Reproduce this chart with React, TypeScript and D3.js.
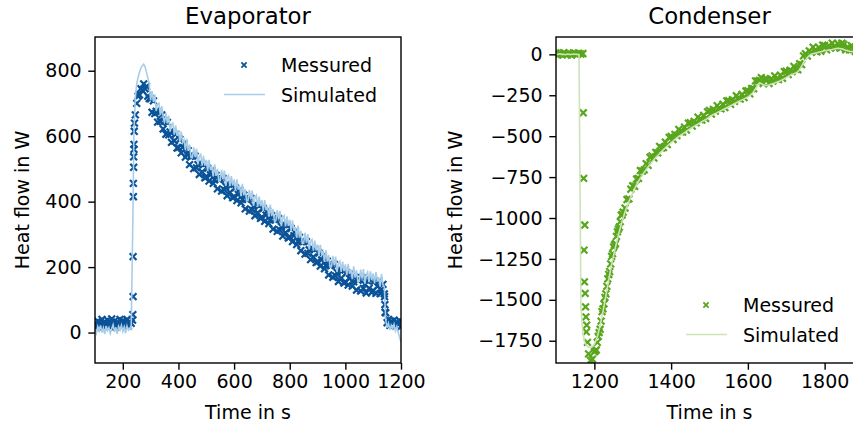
import React, { useEffect, useRef } from 'react';
import * as d3 from 'd3';

// evaporator: samples every 5 s starting at 100 s
const evapT0 = 100;
const evapStep = 5;
const evapMeasured = [
  28, 15, 35, 22, 30, 40, 18, 33, 25, 38,
  20, 30, 42, 24, 35, 17, 32, 27, 40, 22,
  36, 25, 30, 40, 20, 33, 28, 38, 560, 665,
  700, 722, 726, 745, 740, 760, 745, 752, 722, 715,
  714, 673, 708, 669, 676, 643, 674, 645, 665, 622,
  646, 606, 642, 604, 613, 581, 613, 586, 606, 564,
  565, 590, 549, 566, 577, 536, 545, 556, 513, 540,
  539, 501, 539, 503, 513, 483, 517, 491, 513, 473,
  475, 502, 463, 482, 495, 456, 467, 480, 439, 468,
  469, 432, 471, 436, 447, 418, 453, 428, 451, 412,
  415, 442, 403, 422, 435, 396, 407, 420, 378, 407,
  408, 371, 410, 375, 386, 357, 392, 366, 388, 349,
  352, 379, 340, 359, 372, 333, 344, 357, 316, 345,
  346, 309, 348, 313, 324, 295, 330, 305, 328, 289,
  292, 318, 278, 296, 309, 269, 279, 291, 250, 278,
  278, 240, 278, 242, 253, 223, 257, 231, 254, 214,
  216, 243, 203, 222, 234, 195, 205, 218, 176, 205,
  206, 169, 208, 173, 184, 156, 191, 166, 190, 151,
  155, 183, 145, 165, 180, 142, 155, 169, 130, 160,
  162, 127, 168, 135, 148, 121, 158, 135, 160, 123,
  128, 157, 120, 141, 156, 119, 132, 147, 118, 60,
  30, 40, 22, 35, 28, 38, 20, 32, 25, 36,
  18,
];
// extra measured points during the fast transients
const evapExtraT = [236, 237, 237, 238, 238, 239, 239, 240, 241, 242, 1141, 1142, 1143];
const evapExtraV = [55, 110, 232, 415, 456, 505, 537, 575, 615, 640, 110, 85, 62];
const evapSimulated = [
  10, -2, 18, 5, 22, 0, 14, -5, 20, 6,
  15, -3, 12, 24, 2, 16, -4, 19, 8, 22,
  3, 17, -2, 20, 8, 14, 10, 280, 610, 720,
  760, 780, 795, 808, 815, 820, 812, 795, 778, 760,
  709, 738, 705, 728, 677, 698, 701, 664, 692, 659,
  641, 671, 639, 663, 614, 636, 640, 605, 633, 601,
  618, 583, 614, 581, 590, 557, 592, 555, 574, 535,
  534, 566, 536, 562, 514, 538, 544, 510, 540, 510,
  528, 495, 528, 497, 508, 477, 514, 479, 500, 463,
  464, 497, 468, 495, 448, 473, 480, 447, 478, 449,
  468, 435, 468, 437, 448, 417, 454, 419, 439, 402,
  403, 436, 407, 434, 387, 412, 419, 385, 415, 386,
  405, 372, 405, 374, 385, 354, 391, 356, 377, 340,
  341, 374, 345, 372, 325, 350, 357, 324, 355, 326,
  345, 311, 343, 311, 322, 290, 326, 290, 311, 273,
  273, 305, 275, 301, 254, 278, 284, 250, 281, 251,
  269, 236, 268, 237, 247, 216, 252, 217, 237, 200,
  201, 234, 205, 232, 185, 211, 218, 185, 217, 188,
  208, 176, 210, 180, 193, 163, 202, 168, 191, 155,
  157, 192, 165, 194, 149, 176, 185, 154, 187, 160,
  181, 150, 185, 156, 169, 140, 179, 146, 140, 40,
  15, 28, 8, 22, 12, 25, 5, 18, 0, -15,
  -30,
];

// condenser: samples every 5 s starting at 1100 s
const condT0 = 1100;
const condStep = 5;
const condMeasured = [
  8, -4, 6, -2, 10, 2, -3, 7, -5, 9,
  5, -2, 6, 1, 5, -1043, -1655, -1830, -1870, -1862,
  -1818, -1806, -1724, -1680, -1572, -1524, -1464, -1372, -1328, -1234,
  -1178, -1156, -1084, -1055, -982, -964, -939, -887, -883, -824,
  -803, -806, -762, -758, -710, -714, -706, -668, -678, -629,
  -620, -634, -599, -602, -562, -572, -570, -537, -552, -508,
  -502, -520, -489, -496, -459, -473, -475, -445, -463, -421,
  -418, -439, -410, -419, -384, -399, -402, -373, -392, -351,
  -343, -365, -337, -347, -313, -329, -333, -305, -325, -285,
  -283, -305, -277, -287, -253, -269, -273, -245, -264, -224,
  -222, -241, -209, -210, -162, -164, -159, -142, -178, -149,
  -153, -178, -152, -164, -132, -150, -154, -127, -146, -106,
  -103, -124, -96, -106, -74, -92, -94, -57, -63, -9,
  4, -11, 21, 12, 44, 24, 16, 42, 19, 56,
  54, 28, 52, 38, 68, 49, 42, 65, 38, 68,
  60, 28, 46, 27, 53, 29, 18, 39, 12, 46,
  29,
];
const condExtraT = [
  1171, 1172, 1173, 1174, 1176, 1177, 1178, 1179, 1182,
  1202.5, 1207.5, 1212.5, 1217.5, 1222.5, 1227.5, 1232.5, 1237.5,
  1242.5, 1247.5, 1252.5, 1257.5, 1262.5, 1267.5, 1272.5,
];
const condExtraV = [
  -357, -758, -1196, -1390, -1461, -1543, -1604, -1696, -1760,
  -1812, -1760, -1700, -1630, -1555, -1485, -1418, -1345,
  -1280, -1218, -1165, -1112, -1068, -1022, -980,
];
const condSimulated = [
  2, -1, 3, 0, 1, -2, 2, 0, -1, 2,
  1, 0, -2, -1550, -1700, -1760, -1780, -1790, -1790, -1785,
  -1770, -1745, -1705, -1655, -1600, -1540, -1475, -1410, -1345, -1285,
  -1230, -1178, -1128, -1082, -1040, -1000, -962, -930, -900, -872,
  -846, -820, -797, -776, -756, -738, -720, -703, -688, -673,
  -658, -644, -631, -618, -606, -594, -582, -571, -560, -550,
  -540, -530, -520, -511, -502, -494, -486, -478, -470, -462,
  -454, -447, -440, -433, -426, -419, -412, -405, -398, -391,
  -380, -374, -368, -362, -356, -350, -344, -338, -332, -326,
  -320, -314, -308, -302, -296, -290, -284, -278, -272, -266,
  -260, -252, -242, -228, -210, -190, -175, -178, -186, -190,
  -190, -187, -183, -179, -175, -171, -166, -161, -155, -149,
  -142, -135, -129, -123, -118, -114, -107, -92, -72, -52,
  -35, -20, -8, 0, 4, 7, 10, 13, 16, 19,
  22, 24, 26, 28, 30, 33, 36, 37, 36, 33,
  29, 25, 22, 19, 17, 15, 14, 13, 12, 12,
  11,
];

const evapXTicks = [200, 400, 600, 800, 1000, 1200];
const evapYTicks = [0, 200, 400, 600, 800];
const condXTicks = [1200, 1400, 1600, 1800];
const condYTicks = [0, -250, -500, -750, -1000, -1250, -1500, -1750];

const FONT = "'DejaVu Sans', sans-serif";

const xMarker = (cx, cy, s) =>
  `M${cx - s},${cy - s}L${cx + s},${cy + s}M${cx - s},${cy + s}L${cx + s},${cy - s}`;

function drawPanel(svg, o) {
  const x = d3.scaleLinear().domain(o.xDomain).range([o.left, o.right]);
  const y = d3.scaleLinear().domain(o.yDomain).range([o.bottom, o.top]);

  svg
    .append('clipPath')
    .attr('id', o.id)
    .append('rect')
    .attr('x', o.left)
    .attr('y', o.top)
    .attr('width', o.right - o.left)
    .attr('height', o.bottom - o.top);

  const plot = svg.append('g').attr('clip-path', `url(#${o.id})`);

  const measured = o.measured
    .map((v, i) => [o.t0 + i * o.step, v])
    .concat(o.extraT.map((t, i) => [t, o.extraV[i]]));

  plot
    .selectAll('path.m')
    .data(measured)
    .enter()
    .append('path')
    .attr('class', 'm')
    .attr('d', (d) => xMarker(x(d[0]), y(d[1]), 3.4))
    .attr('stroke', o.mColor)
    .attr('stroke-width', 2.2)
    .attr('fill', 'none');

  const sim = o.simulated.map((v, i) => [o.t0 + i * o.step, v]);
  plot
    .append('path')
    .datum(sim)
    .attr('d', d3.line().x((d) => x(d[0])).y((d) => y(d[1])))
    .attr('fill', 'none')
    .attr('stroke', o.sColor)
    .attr('stroke-width', 1.6);

  const xAxis = svg
    .append('g')
    .attr('transform', `translate(0,${o.bottom})`)
    .call(
      d3.axisBottom(x).tickValues(o.xTicks).tickSize(6.7).tickSizeOuter(0).tickPadding(5).tickFormat(d3.format('d'))
    );
  const yAxis = svg
    .append('g')
    .attr('transform', `translate(${o.left},0)`)
    .call(
      d3.axisLeft(y).tickValues(o.yTicks).tickSize(6.7).tickSizeOuter(0).tickPadding(6.7).tickFormat(d3.format('d'))
    );
  [xAxis, yAxis].forEach((a) => {
    a.select('.domain').remove();
    a.selectAll('line').attr('stroke', '#000').attr('stroke-width', 1.4);
    a.selectAll('text').attr('font-family', FONT).attr('font-size', 19).attr('fill', '#000');
  });

  svg
    .append('rect')
    .attr('x', o.left)
    .attr('y', o.top)
    .attr('width', o.right - o.left)
    .attr('height', o.bottom - o.top)
    .attr('fill', 'none')
    .attr('stroke', '#000')
    .attr('stroke-width', 1.4);

  const mid = (o.left + o.right) / 2;
  svg
    .append('text')
    .attr('x', mid)
    .attr('y', 24)
    .attr('text-anchor', 'middle')
    .attr('font-family', FONT)
    .attr('font-size', 22.8)
    .text(o.title);

  svg
    .append('text')
    .attr('x', mid)
    .attr('y', 419)
    .attr('text-anchor', 'middle')
    .attr('font-family', FONT)
    .attr('font-size', 19)
    .text('Time in s');

  svg
    .append('text')
    .attr('transform', `translate(${o.yLabelX},${(o.top + o.bottom) / 2}) rotate(-90)`)
    .attr('text-anchor', 'middle')
    .attr('dy', '0.35em')
    .attr('font-family', FONT)
    .attr('font-size', 19)
    .text('Heat flow in W');

  // legend
  const lg = svg.append('g').attr('transform', `translate(${o.legendX},${o.legendY})`);
  lg.append('path')
    .attr('d', xMarker(20, 0, 2.6))
    .attr('stroke', o.mColor)
    .attr('stroke-width', 1.8);
  lg.append('line')
    .attr('x1', 0)
    .attr('x2', 41)
    .attr('y1', 29.5)
    .attr('y2', 29.5)
    .attr('stroke', o.sColor)
    .attr('stroke-width', 1.5);
  lg.append('text')
    .attr('x', 57)
    .attr('y', 7)
    .attr('font-family', FONT)
    .attr('font-size', 19)
    .text('Messured');
  lg.append('text')
    .attr('x', 57)
    .attr('y', 37)
    .attr('font-family', FONT)
    .attr('font-size', 19)
    .text('Simulated');
}

export default function App() {
  const ref = useRef(null);

  useEffect(() => {
    const svg = d3.select(ref.current);
    svg.selectAll('*').remove();

    drawPanel(svg, {
      id: 'clip-evap',
      title: 'Evaporator',
      left: 95,
      right: 401,
      top: 37,
      bottom: 363,
      xDomain: [100, 1200],
      yDomain: [-93, 903],
      xTicks: evapXTicks,
      yTicks: evapYTicks,
      t0: evapT0,
      step: evapStep,
      measured: evapMeasured,
      extraT: evapExtraT,
      extraV: evapExtraV,
      simulated: evapSimulated,
      mColor: '#0a5398',
      sColor: '#a9cde9',
      yLabelX: 22,
      legendX: 224,
      legendY: 65,
    });

    drawPanel(svg, {
      id: 'clip-cond',
      title: 'Condenser',
      left: 556,
      right: 863,
      top: 37,
      bottom: 363,
      xDomain: [1100, 1900],
      yDomain: [-1886, 106],
      xTicks: condXTicks,
      yTicks: condYTicks,
      t0: condT0,
      step: condStep,
      measured: condMeasured,
      extraT: condExtraT,
      extraV: condExtraV,
      simulated: condSimulated,
      mColor: '#58a61c',
      sColor: '#cfe3b8',
      yLabelX: 455,
      legendX: 686,
      legendY: 305,
    });
  }, []);

  return (
    <svg
      ref={ref}
      width={853}
      height={430}
      style={{ position: 'absolute', left: 0, top: 0, background: '#fff' }}
    />
  );
}
